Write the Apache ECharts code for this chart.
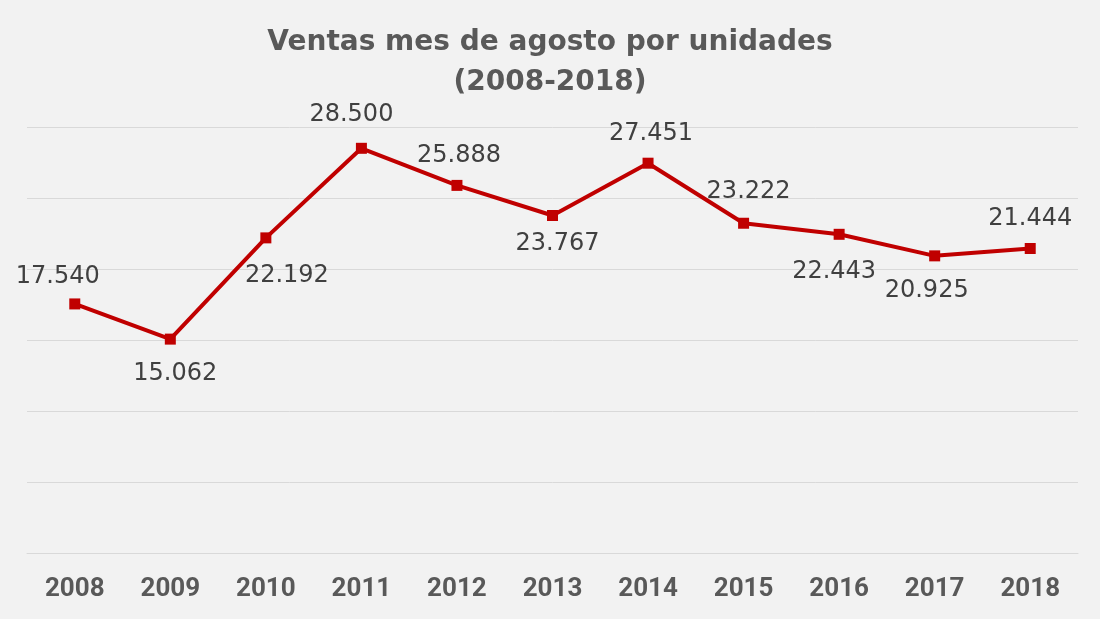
<!DOCTYPE html>
<head>
<meta charset="utf-8">
<title>Ventas agosto</title>
<style>
  body { margin: 0; background: #f2f2f2; }
  #main { width: 1100px; height: 619px; }
</style>
</head>
<body>
<div id="main"></div>
<script src="https://cdn.jsdelivr.net/npm/echarts@6/dist/echarts.min.js"></script>
<script>
var years = ['2008', '2009', '2010', '2011', '2012', '2013', '2014', '2015', '2016', '2017', '2018'];
var ventas = [17540, 15062, 22192, 28500, 25888, 23767, 27451, 23222, 22443, 20925, 21444];
var labelPos = ['top', 'bottom', 'bottom', 'top', 'top', 'bottom', 'top', 'top', 'bottom', 'bottom', 'top'];
var labelShift = [-17, 5, 21, -10, 2, 5, 3, 5, -5, -8, 0];
var labelDrop = [4, 3, 6, -2, 2, -3, 2, 0, 6, 3, 2];

var chart = echarts.init(document.getElementById('main'));

function fmt(v) {
    return String(v).replace(/\B(?=(\d{3})+(?!\d))/g, '.');
}

var pts = ventas.map(function (v, i) {
    return { value: v, label: { position: labelPos[i], offset: [labelShift[i], labelDrop[i]] } };
});

chart.setOption({
    backgroundColor: '#f2f2f2',
    title: {
        text: 'Ventas mes de agosto por unidades\n(2008-2018)',
        left: 'center',
        top: 18,
        textStyle: {
            fontSize: 28,
            fontWeight: 'bold',
            color: '#595959',
            lineHeight: 40,
            fontFamily: 'DejaVu Sans'
        }
    },
    grid: { left: 27, right: 22, top: 127, bottom: 66 },
    xAxis: {
        type: 'category',
        data: years,
        boundaryGap: true,
        axisLine: { show: true, lineStyle: { color: '#d9d9d9' } },
        axisTick: { show: false },
        axisLabel: { fontSize: 26, fontWeight: 'bold', color: '#595959', margin: 23, fontFamily: 'Roboto' }
    },
    yAxis: {
        type: 'value',
        min: 0,
        max: 30000,
        interval: 5000,
        axisLabel: { show: false },
        axisLine: { show: false },
        axisTick: { show: false },
        splitLine: { lineStyle: { color: '#d9d9d9', width: 1 } }
    },
    series: [{
        type: 'line',
        data: pts,
        symbol: 'rect',
        symbolSize: 11,
        itemStyle: { color: '#c00000' },
        lineStyle: { color: '#c00000', width: 4 },
        label: {
            show: true,
            fontSize: 24,
            color: '#404040',
            distance: 14,
            fontFamily: 'DejaVu Sans',
            formatter: function (p) { return fmt(p.value); }
        }
    }]
});
</script>
</body>
</html>
